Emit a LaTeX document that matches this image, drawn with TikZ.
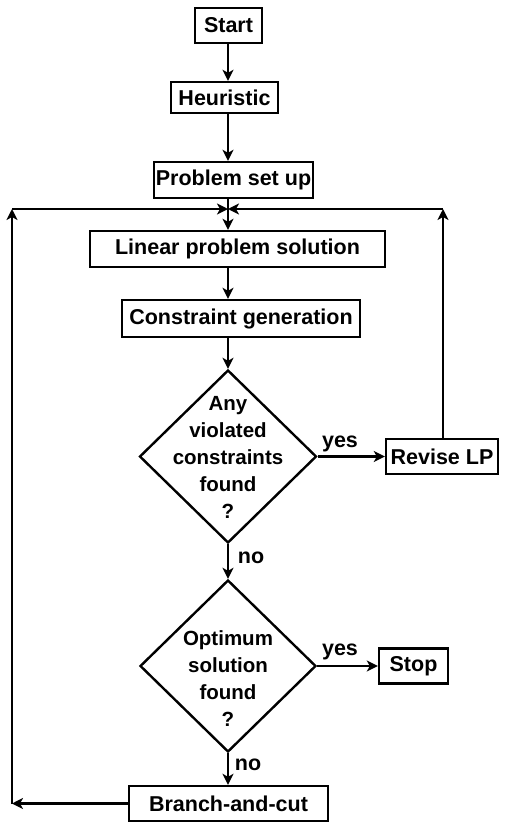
\documentclass[tikz,border=0pt]{standalone}
\usepackage{fontspec}
\setmainfont{Liberation Sans}
\usetikzlibrary{shapes.geometric,arrows.meta}
\begin{document}
\begin{tikzpicture}[x=1pt,y=-1pt,
  every node/.style={font=\fontsize{21.5}{26}\selectfont\bfseries},
  box/.style={draw, rectangle, line width=2.4pt, inner sep=0pt},
  decision/.style={draw, diamond, line width=2.4pt, inner sep=0pt},
  dtext/.style={align=center, inner sep=0pt, font=\fontsize{20.5}{27}\selectfont\bfseries},
  lbl/.style={inner sep=0pt},
  flow/.style={line width=2.4pt, -{Stealth[length=11pt,width=11pt,inset=3pt]}}]
\useasboundingbox (0,0) rectangle (504,822);

% main column
\node[box, minimum width=67pt,  minimum height=35pt] (start)  at (228.5,25.5) {Start};
\node[box, minimum width=107pt, minimum height=31pt] (heur)   at (224.5,97.5) {Heuristic};
\node[box, minimum width=159pt, minimum height=36pt] (setup)  at (233.5,180)  {Problem set up};
\node[box, minimum width=295pt, minimum height=36pt] (linear) at (237.5,249)  {Linear problem solution};
\node[box, minimum width=238pt, minimum height=37pt] (cgen)   at (241,318.5)  {Constraint generation};

% decisions
\node[decision, minimum width=177pt, minimum height=173pt] (d1) at (228,456.5) {};
\node[dtext] (d1t) at (228,457) {Any\\violated\\constraints\\found\\?};
\node[decision, minimum width=176pt, minimum height=172pt] (d2) at (228,666) {};
\node[dtext] (d2t) at (228,679) {Optimum\\solution\\found\\?};

% side boxes
\node[box, minimum width=112pt, minimum height=35pt] (revise) at (442,456.5) {Revise LP};
\node[box, minimum width=69pt,  minimum height=35pt] (stop)   at (413.5,666)  {Stop};
\node[box, minimum width=199pt, minimum height=35pt] (bac)    at (228.5,803.5) {Branch-and-cut};

% branch labels
\node[lbl] (yes1) at (340,444) {yes};
\node[lbl] (no1)  at (251,558) {no};
\node[lbl] (yes2) at (340,652) {yes};
\node[lbl] (no2)  at (248,765) {no};

% loop points
\coordinate (j)  at (228,209);
\coordinate (lt) at (12,209);
\coordinate (lb) at (12,803.5);
\coordinate (rt) at (443,209);

% flow
\draw[flow] (start.south -| j) -- (heur.north -| j);
\draw[flow] (heur.south -| j)  -- (setup.north -| j);
\draw[flow] (setup.south -| j) -- (linear.north -| j);
\draw[flow] (linear.south -| j) -- (cgen.north -| j);
\draw[flow] (cgen.south -| j)  -- (d1.north);
\draw[flow] (d1.east)  -- (revise.west);
\draw[flow] (d1.south) -- (d2.north);
\draw[flow] (d2.east)  -- (stop.west);
\draw[flow] (d2.south) -- (d2.south |- bac.north);

% return loops
\draw[flow] (bac.west) -- (lb);
\draw[flow] (lb) -- (lt);
\draw[flow] (lt) -- (j);
\draw[flow] (revise.north -| rt) -- (rt);
\draw[flow] (rt) -- (j);
\end{tikzpicture}
\end{document}
